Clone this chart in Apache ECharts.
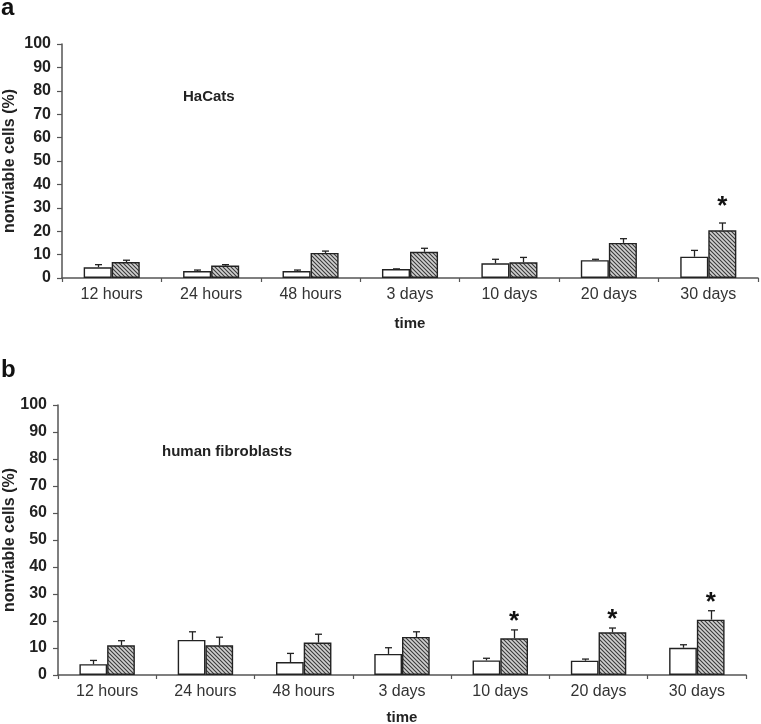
<!DOCTYPE html>
<html>
<head>
<meta charset="utf-8">
<script src="https://cdn.jsdelivr.net/npm/echarts@6/dist/echarts.min.js"></script>
<style>html,body{margin:0;padding:0;background:#fff}#c{width:761px;height:724px}</style>
</head>
<body>
<div id="c"></div>
<script>
// ---- data ----
var categories = ['12 hours', '24 hours', '48 hours', '3 days', '10 days', '20 days', '30 days'];
var yTicks = [0, 10, 20, 30, 40, 50, 60, 70, 80, 90, 100];

var hacatControl = [4.6, 3.0, 3.0, 3.8, 6.3, 7.6, 9.1];
var hacatControlSD = [1.1, 0.4, 0.4, 0.1, 1.7, 0.4, 2.7];
var hacatTreated = [6.8, 5.3, 10.7, 11.2, 6.7, 15.0, 20.4];
var hacatTreatedSD = [0.8, 0.4, 0.8, 1.5, 2.1, 1.8, 3.1];
var hacatSig = [0, 0, 0, 0, 0, 0, 1];

var fibroControl = [4.0, 13.0, 4.8, 7.8, 5.4, 5.3, 10.1];
var fibroControlSD = [1.4, 3.0, 3.2, 2.3, 0.8, 0.6, 1.1];
var fibroTreated = [11.0, 11.0, 12.0, 14.1, 13.6, 15.8, 20.5];
var fibroTreatedSD = [1.7, 3.0, 3.1, 1.9, 3.1, 1.6, 3.3];
var fibroSig = [0, 0, 0, 0, 1, 1, 1];

// ---- styles ----
var FONT = '"Liberation Sans", Arial, Helvetica, sans-serif';
var hatch = document.createElement('canvas');
hatch.width = 4; hatch.height = 4;
(function () {
  var g = hatch.getContext('2d');
  g.fillStyle = '#d0d0d0';
  g.fillRect(0, 0, 4, 4);
  g.strokeStyle = '#3a3a3a';
  g.lineWidth = 1.1;
  g.beginPath();
  g.moveTo(-1, -1); g.lineTo(5, 5);
  g.moveTo(-1, 3); g.lineTo(1, 5);
  g.moveTo(3, -1); g.lineTo(5, 1);
  g.stroke();
})();

var BARW = 0.282;

function errData(vals, sds, side) {
  return vals.map(function (v, i) { return [i, v, v + sds[i], side]; });
}
function sigData(vals, sds, sig) {
  var out = [];
  vals.forEach(function (v, i) { if (sig[i]) out.push([i, v + sds[i], 1]); });
  return out;
}
function errRender(params, api) {
  var i = api.value(0), v = api.value(1), top = api.value(2), side = api.value(3);
  var bw = api.size([1, 0])[0];
  var off = side * bw * BARW / 2;
  var p0 = api.coord([i, v]);
  var p1 = api.coord([i, top]);
  var x = Math.round(p0[0] + off) + 0.5;
  var st = { stroke: '#222', lineWidth: 1.3 };
  return {
    type: 'group',
    children: [
      { type: 'line', shape: { x1: x, y1: p0[1], x2: x, y2: p1[1] }, style: st },
      { type: 'line', shape: { x1: x - 3.5, y1: p1[1], x2: x + 3.5, y2: p1[1] }, style: st }
    ]
  };
}
function sigRender(gap) {
  return function (params, api) {
    var i = api.value(0), top = api.value(1), side = api.value(2);
    var bw = api.size([1, 0])[0];
    var p = api.coord([i, top]);
    return {
      type: 'text',
      x: p[0] + side * bw * BARW / 2,
      y: p[1] - gap,
      style: { text: '*', font: 'bold 26px ' + FONT, fill: '#111', align: 'center', verticalAlign: 'middle' }
    };
  };
}

function xAxis(gi, gap) {
  return {
    type: 'category', gridIndex: gi, data: categories,
    axisLine: { lineStyle: { color: '#555', width: 1.5 } },
    axisTick: { show: true, length: 4, lineStyle: { color: '#555', width: 1.2 } },
    axisLabel: { fontFamily: FONT, fontSize: 16, color: '#333', margin: 9 },
    name: 'time', nameLocation: 'middle', nameGap: gap, nameMoveOverlap: false,
    nameTextStyle: { fontFamily: FONT, fontSize: 15, fontWeight: 'bold', color: '#222' }
  };
}
function yAxis(gi, gap) {
  return {
    type: 'value', gridIndex: gi, min: yTicks[0], max: yTicks[yTicks.length - 1], interval: yTicks[1] - yTicks[0],
    axisLine: { show: true, lineStyle: { color: '#555', width: 1.5 } },
    axisTick: { show: true, length: 5, lineStyle: { color: '#555', width: 1.2 } },
    splitLine: { show: false },
    axisLabel: { fontFamily: FONT, fontSize: 16, fontWeight: 'bold', color: '#222', margin: 11 },
    name: 'nonviable cells (%)', nameLocation: 'middle', nameGap: gap, nameMoveOverlap: false,
    nameTextStyle: { fontFamily: FONT, fontSize: 16, fontWeight: 'bold', color: '#222' }
  };
}
function bars(gi, ctrl, trt) {
  return [
    { type: 'bar', xAxisIndex: gi, yAxisIndex: gi, data: ctrl, barWidth: (BARW * 100) + '%', barGap: '0%',
      itemStyle: { color: '#fff', borderColor: '#222', borderWidth: 1.4 }, silent: true },
    { type: 'bar', xAxisIndex: gi, yAxisIndex: gi, data: trt, barWidth: (BARW * 100) + '%', barGap: '0%',
      itemStyle: { color: { image: hatch, repeat: 'repeat' }, borderColor: '#222', borderWidth: 1.4 }, silent: true }
  ];
}

var series = []
  .concat(bars(0, hacatControl, hacatTreated))
  .concat(bars(1, fibroControl, fibroTreated))
  .concat([
    { type: 'custom', xAxisIndex: 0, yAxisIndex: 0, renderItem: errRender, data: errData(hacatControl, hacatControlSD, -1), z: 5 },
    { type: 'custom', xAxisIndex: 0, yAxisIndex: 0, renderItem: errRender, data: errData(hacatTreated, hacatTreatedSD, 1), z: 5 },
    { type: 'custom', xAxisIndex: 1, yAxisIndex: 1, renderItem: errRender, data: errData(fibroControl, fibroControlSD, -1), z: 5 },
    { type: 'custom', xAxisIndex: 1, yAxisIndex: 1, renderItem: errRender, data: errData(fibroTreated, fibroTreatedSD, 1), z: 5 },
    { type: 'custom', xAxisIndex: 0, yAxisIndex: 0, renderItem: sigRender(16), data: sigData(hacatTreated, hacatTreatedSD, hacatSig), z: 5 },
    { type: 'custom', xAxisIndex: 1, yAxisIndex: 1, renderItem: sigRender(8), data: sigData(fibroTreated, fibroTreatedSD, fibroSig), z: 5 }
  ]);

var chart = echarts.init(document.getElementById('c'), null, { renderer: 'canvas' });
chart.setOption({
  animation: false,
  backgroundColor: '#fff',
  grid: [
    { left: 62, right: 3, top: 44, height: 234, outerBoundsMode: 'none', containLabel: false },
    { left: 58, right: 15, top: 405, height: 270, outerBoundsMode: 'none', containLabel: false }
  ],
  xAxis: [xAxis(0, 38), xAxis(1, 35)],
  yAxis: [yAxis(0, 44), yAxis(1, 40)],
  series: series,
  graphic: [
    { type: 'text', left: 1, top: -4, style: { text: 'a', font: 'bold 24px ' + FONT, fill: '#111' } },
    { type: 'text', left: 1, top: 358, style: { text: 'b', font: 'bold 24px ' + FONT, fill: '#111' } },
    { type: 'text', left: 183, top: 89, style: { text: 'HaCats', font: 'bold 15px ' + FONT, fill: '#222' } },
    { type: 'text', left: 162, top: 444, style: { text: 'human fibroblasts', font: 'bold 15px ' + FONT, fill: '#222' } }
  ]
});
</script>
</body>
</html>
